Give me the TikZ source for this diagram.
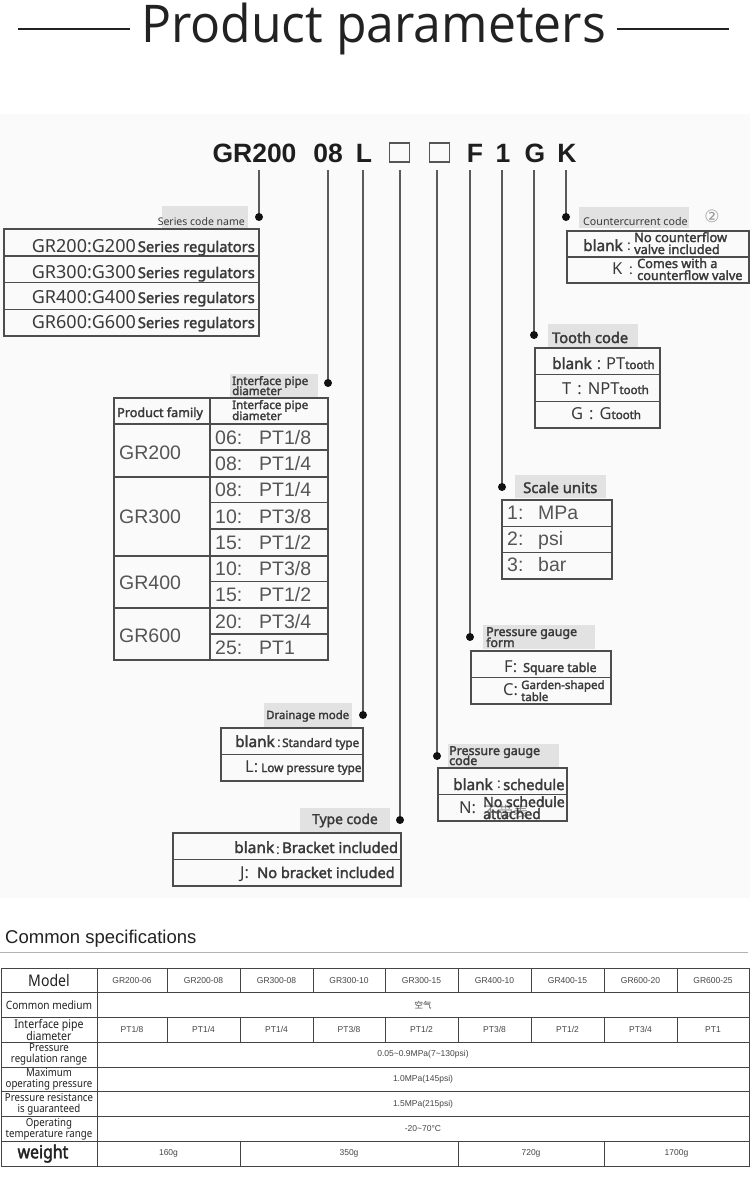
\documentclass[tikz,border=0pt]{standalone}
\usepackage{fontspec}
\setmainfont{Noto Sans}[BoldFont={Noto Sans},BoldFeatures={FakeBold=2.2}]
\newfontfamily\arialf{Liberation Sans}
\newfontfamily\titlef[FakeStretch=0.96]{Open Sans}
\newfontfamily\narrowf[FakeStretch=0.88,BoldFont={Noto Sans},BoldFeatures={FakeStretch=0.88,FakeBold=2.2}]{Noto Sans}
\newfontfamily\cjk{Noto Sans CJK SC}
\newfontfamily\symf{DejaVu Sans}
\usepackage{tikz}
\usetikzlibrary{calc}
\definecolor{txtc}{HTML}{3A3A3A}
\definecolor{arc}{HTML}{555555}
\definecolor{tagc}{HTML}{E2E2E2}
\definecolor{tblc}{HTML}{4D4D4D}
\definecolor{linec}{HTML}{5A5A5A}
\definecolor{dotc}{HTML}{111111}
\definecolor{codec}{HTML}{1E1E1E}
\definecolor{boxc}{HTML}{555555}
\definecolor{numc}{HTML}{9A9A9A}
\definecolor{titlec}{HTML}{222222}
\definecolor{bgc}{HTML}{FAFAFA}
\definecolor{specc}{HTML}{444444}
\definecolor{cellc}{HTML}{454545}
\definecolor{cjkc}{HTML}{8C8C8C}
\newcommand{\fsz}[1]{\fontsize{#1}{#1}\selectfont}
\newcommand{\tld}{\textasciitilde}
\newcommand{\prtag}[4]{\fill[tagc] (#1,#2) rectangle (#3,#4);}
\newcommand{\prdot}[1]{\fill[dotc] (#1) circle (4);}
\newcommand{\prtable}[5]{\draw[tbl] (#1,#2) rectangle (#3,#4);
	\pgfmathsetmacro{\prrowh}{(#4-#2)/#5}
	\foreach \k in {2,...,#5} {\draw[tbl] (#1,{#2+(\k-1)*\prrowh}) -- (#3,{#2+(\k-1)*\prrowh});}}
\tikzset{
	code/.style={anchor=base,font=\arialf\bfseries\fsz{26.5},text=codec,text depth=0pt,outer ysep=8pt},
	codebox/.style={draw=boxc,line width=1.4,minimum width=20pt,minimum height=19pt,outer ysep=8pt},
	lead/.style={draw=linec,line width=1.1},
	tbl/.style={draw=tblc,line width=1.5},
	bw/.style={anchor=base west,font=\bfseries\fsz{#1}},
	rg/.style={anchor=base west,font=\fsz{#1}},
	ar/.style={anchor=base west,font=\arialf\fsz{19.5},text=arc},
	spec/.style={draw=specc,line width=0.8},
	spechd/.style={align=center,font=\narrowf\fsz{#1},text=titlec},
	cell/.style={font=\arialf\fsz{8.5},text=cellc},
}

\begin{document}
\begin{tikzpicture}[x=1pt,y=-1pt,every node/.style={inner sep=0,text=txtc}]
	\useasboundingbox (0,0) rectangle (750,1194);
	\fill[white] (0,0) rectangle (750,1194);
	\fill[bgc] (0,114) rectangle (750,898);
	
	\node[anchor=base,text=titlec,font=\titlef\fsz{52}] (title) at (373.5,42) {Product parameters};
	\draw[titlec,line width=1.2] (18,29) -- (130,29);
	\draw[titlec,line width=1.2] (617,29) -- (729,29);
	
	% order code
	\node[code] (cGR) at (254.5,162) {GR200};
	\node[code] (c08) at (328,162) {08};
	\node[code] (cL) at (364,162) {L};
	\node[codebox] (cB1) at (399.5,152.5) {};
	\node[codebox] (cB2) at (439.5,152.5) {};
	\node[code] (cF) at (475,162) {F};
	\node[code] (c1) at (503,162) {1};
	\node[code] (cG) at (535,162) {G};
	\node[code] (cK) at (567,162) {K};
	
	\coordinate (dGR) at (259,217);
	\coordinate (d08) at (328,383);
	\coordinate (dL) at (363,715);
	\coordinate (dB1) at (400,820);
	\coordinate (dB2) at (437,756);
	\coordinate (dF) at (470,637);
	\coordinate (d1) at (502,487);
	\coordinate (dG) at (534,335);
	\coordinate (dK) at (566,217);
	
	\foreach \c in {GR,08,L,B1,B2,F,1,G,K} {
		\draw[lead] (d\c |- c\c.south) -- (d\c);
		\prdot{d\c}
	}
	
	% series code name
	\prtag{162}{206}{248}{229}
	\node[anchor=base east,font=\fsz{10.5}] (serTag) at (245,225) {Series code name};
	\prtable{4}{229}{259}{336}{4}
	\foreach \sr/\yb in {200/252,300/278,400/303,600/328}
		\node[anchor=base east] (ser\sr) at (255,\yb) {\fsz{18}GR\sr:G\sr\hspace{2pt}{\bfseries\fsz{14.7}Series regulators}};
	
	% countercurrent code
	\prtag{579}{207}{689}{228}
	\node[rg=10.7] (cntTag) at (583,225) {Countercurrent code};
	\node[font=\symf\fsz{17},text=numc] (cntNum) at (712,216) {②};
	\prtable{567}{231}{749}{283}{2}
	\node[bw=15.3] (cntA) at (583,251) {blank};
	\node[rg=14] (cntAc) at (627,250) {:};
	\node[bw=12.8] (cntA1) at (634,242) {No counterflow};
	\node[bw=12.8] (cntA2) at (634,254) {valve included};
	\node[rg=16.5] (cntB) at (612,274) {K};
	\node[rg=14] (cntBc) at (629,274) {:};
	\node[bw=12.7] (cntB1) at (637,268) {Comes with a};
	\node[bw=12.7] (cntB2) at (637,280) {counterflow valve};
	
	% tooth code
	\prtag{548}{324}{638}{347}
	\node[bw=14.6] (thTag) at (552,343) {Tooth code};
	\prtable{535}{348}{660}{428}{3}
	\node[rg=16.5] (thA) at (552,369) {{\bfseries\fsz{15.3}blank}\hspace{5pt}:\hspace{5pt}PT{\bfseries\fsz{11.5}tooth}};
	\node[rg=16.5] (thB) at (562,394) {T\hspace{6pt}:\hspace{6pt}NPT{\bfseries\fsz{11.5}tooth}};
	\node[rg=16.5] (thC) at (571,419) {G\hspace{6pt}:\hspace{6pt}G{\bfseries\fsz{11.5}tooth}};
	
	% interface pipe diameter
	\prtag{230}{374}{318}{397}
	\node[bw=11.6] (ifTagA) at (232,385) {Interface pipe};
	\node[bw=11.6] (ifTagB) at (232,395) {diameter};
	\draw[tbl] (114,398) rectangle (328,660);
	\draw[tbl] (210,398) -- (210,660);
	\foreach \yy in {424,477,556,608} \draw[tbl] (114,\yy) -- (328,\yy);
	\foreach \k in {1,3,4,6,8} \draw[tbl] (210,{424+\k*26.22}) -- (328,{424+\k*26.22});
	\node[bw=12.6] (ifHeadA) at (117,417) {Product family};
	\node[bw=11.6] (ifHeadB) at (232,409) {Interface pipe};
	\node[bw=11.6] (ifHeadC) at (232,420) {diameter};
	\foreach \g/\yb in {200/459,300/523,400/589,600/642}
		\node[ar] (fam\g) at (119,\yb) {GR\g};
	\foreach \k/\a/\b in {0/06/1\slash8,1/08/1\slash4,2/08/1\slash4,3/10/3\slash8,4/15/1\slash2,5/10/3\slash8,6/15/1\slash2,7/20/3\slash4,8/25/1}
		\node[ar] (pipe\k) at (215,{444.5+\k*26.22}) {\makebox[44pt][l]{\a:}PT\b};
	
	% scale units
	\prtag{515}{475}{606}{498}
	\node[bw=14.8] (unitTag) at (523,493) {Scale units};
	\prtable{502}{500}{612}{579}{3}
	\foreach \k/\a/\b in {0/1/MPa,1/2/psi,2/3/bar}
		\node[ar] (unit\k) at (507,{519+\k*26.4}) {\makebox[31pt][l]{\a:}\b};
	
	% pressure gauge form
	\prtag{483}{625}{595}{649}
	\node[bw=12.4] (formTagA) at (486,636) {Pressure gauge};
	\node[bw=12.4] (formTagB) at (486,647) {form};
	\prtable{471}{651}{611}{704}{2}
	\node[rg=16.5] (formF) at (504,672) {F:};
	\node[bw=12.4] (formF1) at (523,672) {Square table};
	\node[rg=16.5] (formC) at (503,695) {C:};
	\node[bw=11.5] (formC1) at (521,689) {Garden-shaped};
	\node[bw=11.5] (formC2) at (521,701) {table};
	
	% drainage mode
	\prtag{264}{703}{352}{727}
	\node[bw=11.4] (drnTag) at (266,719) {Drainage mode};
	\prtable{221}{728}{363}{781}{2}
	\node[bw=15.3] (drnA) at (235,747) {blank};
	\node[rg=14] (drnAc) at (277,747) {:};
	\node[bw=11.7] (drnA1) at (282,747) {Standard type};
	\node[rg=16.5] (drnB) at (245,772) {L:};
	\node[bw=11.7] (drnB1) at (261,772) {Low pressure type};
	
	% pressure gauge code
	\prtag{448}{744}{559}{767}
	\node[bw=12.4] (gcTagA) at (449,755) {Pressure gauge};
	\node[bw=12.4] (gcTagB) at (449,765) {code};
	\prtable{438}{768}{567}{821}{2}
	\node[bw=15.3] (gcA) at (453,790) {blank};
	\node[rg=14] (gcAc) at (497,788) {:};
	\node[bw=14.6] (gcA1) at (503,790) {schedule};
	\node[rg=16.5] (gcB) at (459,813) {N:};
	\node[anchor=base west,font=\cjk\fsz{15},text=cjkc] (gcB0) at (483,817) {不带表};
	\node[bw=14] (gcB1) at (483,807) {No schedule};
	\node[bw=14] (gcB2) at (483,819) {attached};
	
	% type code
	\prtag{300}{808}{390}{832}
	\node[bw=13.8] (typTag) at (312,824) {Type code};
	\prtable{173}{833}{401}{886}{2}
	\node[bw=15.5] (typA) at (234,853) {blank};
	\node[rg=14] (typAc) at (276,854) {:};
	\node[bw=14.8] (typA1) at (282,853) {Bracket included};
	\node[rg=16.5] (typB) at (240,878) {J:};
	\node[bw=14.6] (typB1) at (257,878) {No bracket included};
	
	% common specifications
	\node[anchor=base west,font=\arialf\fsz{18.5},text=titlec] (specTitle) at (5,943) {Common specifications};
	\draw[draw=black!30,line width=1] (0,952) -- (748,952);
	\draw[spec] (1,968) rectangle (749,1166);
	\foreach \k in {1,...,7} \draw[spec] (1,{968+\k*24.75}) -- (749,{968+\k*24.75});
	\draw[spec] (97,968) -- (97,1166);
	\foreach \xx in {167,240,313,385,458,531,604,677} {
		\draw[spec] (\xx,968) -- (\xx,992.75);
		\draw[spec] (\xx,1017.5) -- (\xx,1042.25);
	}
	\foreach \xx in {240,458,604} \draw[spec] (\xx,1141.25) -- (\xx,1166);
	
	\node[spechd=16] (hModel) at (49,980.4) {Model};
	\node[spechd=11.5] (hMed) at (49,1005.1) {Common medium};
	\node[spechd=12] (hPipe) at (49,1029.9) {Interface pipe\\diameter};
	\node[spechd=11] (hReg) at (49,1054.6) {Pressure\\regulation range};
	\node[spechd=11] (hMax) at (49,1079.4) {Maximum\\operating pressure};
	\node[spechd=11] (hRes) at (49,1104.1) {Pressure resistance\\is guaranteed};
	\node[spechd=11] (hTmp) at (49,1128.9) {Operating\\temperature range};
	\node[font=\narrowf\bfseries\fsz{18},text=titlec] (hWt) at (43,1153.6) {weight};
	
	\foreach \xx/\m/\p [count=\i] in {132/GR200-06/1\slash8,203.5/GR200-08/1\slash4,276.5/GR300-08/1\slash4,349/GR300-10/3\slash8,421.5/GR300-15/1\slash2,494.5/GR400-10/3\slash8,567.5/GR400-15/1\slash2,640.5/GR600-20/3\slash4,713/GR600-25/1} {
		\node[cell] (mod\i) at (\xx,980.4) {\m};
		\node[cell] (pt\i) at (\xx,1029.9) {PT\p};
	}
	\node[cell,font=\cjk\fsz{8.5}] (vMed) at (423,1005.1) {空气};
	\node[cell] (vReg) at (423,1054.6) {0.05\tld0.9MPa(7\tld130psi)};
	\node[cell] (vMax) at (423,1079.4) {1.0MPa(145psi)};
	\node[cell] (vRes) at (423,1104.1) {1.5MPa(215psi)};
	\node[cell] (vTmp) at (423,1128.9) {-20\tld70°C};
	\foreach \xx/\w [count=\i] in {168.5/160g,349/350g,531/720g,676.5/1700g}
		\node[cell] (wt\i) at (\xx,1153.6) {\w};
\end{tikzpicture}
\end{document}
